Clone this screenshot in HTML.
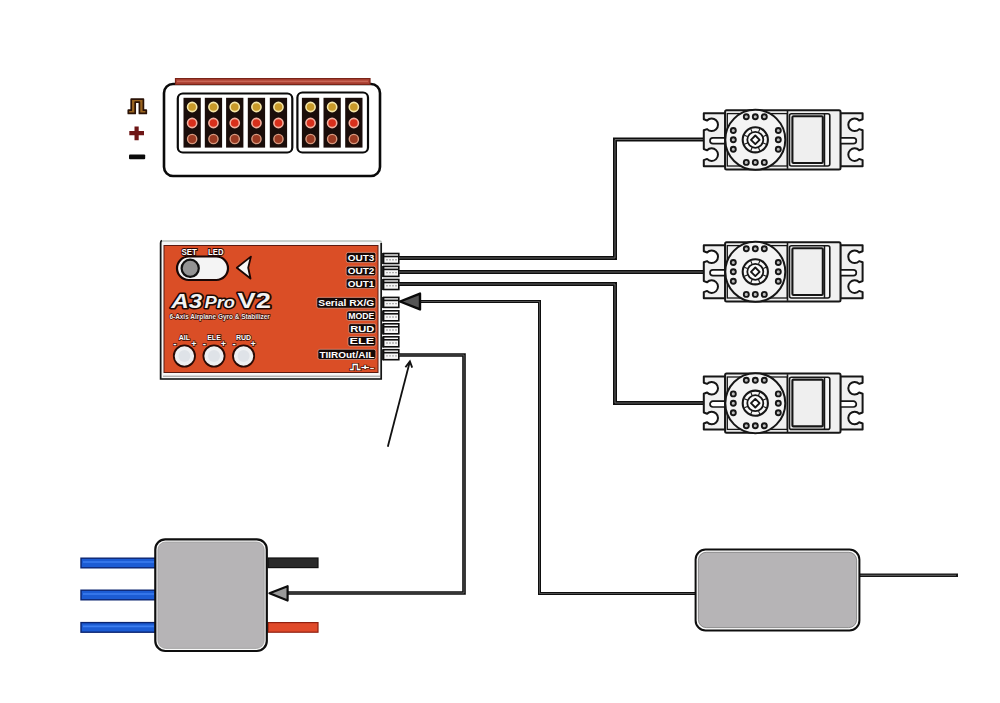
<!DOCTYPE html>
<html><head><meta charset="utf-8"><style>
html,body{margin:0;padding:0;background:#fff;width:1000px;height:703px;overflow:hidden;font-family:"Liberation Sans",sans-serif;}
svg{display:block}
</style></head><body>
<svg width="1000" height="703" viewBox="0 0 1000 703"><g><rect x="164" y="84" width="216" height="92" rx="9" fill="#ffffff" stroke="#0a0a0a" stroke-width="2.6"/>
<rect x="175.5" y="78.6" width="194.5" height="5.8" fill="#b04436" stroke="#7a2418" stroke-width="1.2"/>
<line x1="177" y1="81.3" x2="368" y2="81.3" stroke="#d07060" stroke-width="1.1"/>
<rect x="177.8" y="93.5" width="114.5" height="59" rx="5" fill="#fff" stroke="#0a0a0a" stroke-width="2.2"/>
<rect x="297.4" y="92.5" width="70.6" height="60" rx="5" fill="#fff" stroke="#0a0a0a" stroke-width="2.2"/>
<rect x="183.5" y="97.8" width="17.3" height="49.8" fill="#1a0d0a"/>
<circle cx="192.15" cy="107" r="4.6" fill="#c99a2a" stroke="#f5e6a8" stroke-width="1.6"/>
<circle cx="192.15" cy="123" r="4.6" fill="#d8301c" stroke="#f3b0a0" stroke-width="1.6"/>
<circle cx="192.15" cy="139" r="4.6" fill="#9a3a22" stroke="#d89a80" stroke-width="1.4"/>
<rect x="204.8" y="97.8" width="17.3" height="49.8" fill="#1a0d0a"/>
<circle cx="213.45000000000002" cy="107" r="4.6" fill="#c99a2a" stroke="#f5e6a8" stroke-width="1.6"/>
<circle cx="213.45000000000002" cy="123" r="4.6" fill="#d8301c" stroke="#f3b0a0" stroke-width="1.6"/>
<circle cx="213.45000000000002" cy="139" r="4.6" fill="#9a3a22" stroke="#d89a80" stroke-width="1.4"/>
<rect x="226.1" y="97.8" width="17.3" height="49.8" fill="#1a0d0a"/>
<circle cx="234.75" cy="107" r="4.6" fill="#c99a2a" stroke="#f5e6a8" stroke-width="1.6"/>
<circle cx="234.75" cy="123" r="4.6" fill="#d8301c" stroke="#f3b0a0" stroke-width="1.6"/>
<circle cx="234.75" cy="139" r="4.6" fill="#9a3a22" stroke="#d89a80" stroke-width="1.4"/>
<rect x="247.8" y="97.8" width="17.3" height="49.8" fill="#1a0d0a"/>
<circle cx="256.45" cy="107" r="4.6" fill="#c99a2a" stroke="#f5e6a8" stroke-width="1.6"/>
<circle cx="256.45" cy="123" r="4.6" fill="#d8301c" stroke="#f3b0a0" stroke-width="1.6"/>
<circle cx="256.45" cy="139" r="4.6" fill="#9a3a22" stroke="#d89a80" stroke-width="1.4"/>
<rect x="269.8" y="97.8" width="17.3" height="49.8" fill="#1a0d0a"/>
<circle cx="278.45" cy="107" r="4.6" fill="#c99a2a" stroke="#f5e6a8" stroke-width="1.6"/>
<circle cx="278.45" cy="123" r="4.6" fill="#d8301c" stroke="#f3b0a0" stroke-width="1.6"/>
<circle cx="278.45" cy="139" r="4.6" fill="#9a3a22" stroke="#d89a80" stroke-width="1.4"/>
<rect x="301.9" y="97.8" width="17.3" height="49.8" fill="#1a0d0a"/>
<circle cx="310.54999999999995" cy="107" r="4.6" fill="#c99a2a" stroke="#f5e6a8" stroke-width="1.6"/>
<circle cx="310.54999999999995" cy="123" r="4.6" fill="#d8301c" stroke="#f3b0a0" stroke-width="1.6"/>
<circle cx="310.54999999999995" cy="139" r="4.6" fill="#9a3a22" stroke="#d89a80" stroke-width="1.4"/>
<rect x="323.5" y="97.8" width="17.3" height="49.8" fill="#1a0d0a"/>
<circle cx="332.15" cy="107" r="4.6" fill="#c99a2a" stroke="#f5e6a8" stroke-width="1.6"/>
<circle cx="332.15" cy="123" r="4.6" fill="#d8301c" stroke="#f3b0a0" stroke-width="1.6"/>
<circle cx="332.15" cy="139" r="4.6" fill="#9a3a22" stroke="#d89a80" stroke-width="1.4"/>
<rect x="345.2" y="97.8" width="17.3" height="49.8" fill="#1a0d0a"/>
<circle cx="353.84999999999997" cy="107" r="4.6" fill="#c99a2a" stroke="#f5e6a8" stroke-width="1.6"/>
<circle cx="353.84999999999997" cy="123" r="4.6" fill="#d8301c" stroke="#f3b0a0" stroke-width="1.6"/>
<circle cx="353.84999999999997" cy="139" r="4.6" fill="#9a3a22" stroke="#d89a80" stroke-width="1.4"/>
<path d="M128.3,113.4 V110.2 H131.2 V99.2 H143.4 V110.2 H146.3 V113.4 H139.4 V102.2 H135.2 V113.4 Z" fill="#9a6420" stroke="#2a1206" stroke-width="1.7" stroke-linejoin="round"/>
<path d="M129.3,133.2 h14.7 M136.6,126.4 v13.8" fill="none" stroke="#6e1616" stroke-width="4.2"/>
<rect x="129" y="154.6" width="16.2" height="4.6" rx="1" fill="#0a0a0a"/>
<rect x="160.8" y="241" width="220.5" height="138" rx="1.5" fill="#f6f6f6" stroke="#b8c0bc" stroke-width="1.4"/>
<path d="M162,240.5 Q160.6,240.8 160.6,243 V379 H381.2 V243" fill="none" stroke="#151515" stroke-width="1.7"/>
<rect x="164" y="245.5" width="214" height="127" fill="#da4e26" stroke="#5a1a10" stroke-width="1"/>
<line x1="163" y1="376.2" x2="380" y2="376.2" stroke="#7a7a7a" stroke-width="0.8"/>
<rect x="177" y="256.5" width="51" height="23.5" rx="11.75" fill="#f4f4f4" stroke="#1a0604" stroke-width="2.2"/>
<circle cx="190.2" cy="268.3" r="8.6" fill="#949494" stroke="#111" stroke-width="2.2"/>
<text x="181.5" y="255.3" font-family='"Liberation Sans", sans-serif' font-weight="bold" font-size="9" fill="#fff" stroke="#2a0804" stroke-width="2" paint-order="stroke" textLength="15.5" lengthAdjust="spacingAndGlyphs">SET</text>
<text x="208" y="255.3" font-family='"Liberation Sans", sans-serif' font-weight="bold" font-size="9" fill="#fff" stroke="#2a0804" stroke-width="2" paint-order="stroke" textLength="15.5" lengthAdjust="spacingAndGlyphs">LED</text>
<path d="M236.8,267.7 L250.9,256.6 L248.2,267.7 L250.5,278.5 Z" fill="#f6f6f6" stroke="#1a0604" stroke-width="1.8" stroke-linejoin="round"/>
<text x="171.2" y="307.8" font-family='"Liberation Sans", sans-serif' font-weight="bold" font-style="italic" font-size="19.5" fill="#f2f2f2" stroke="#1a0804" stroke-width="3" stroke-linejoin="round" paint-order="stroke" textLength="31" lengthAdjust="spacingAndGlyphs">A3</text>
<text x="204.5" y="307.8" font-family='"Liberation Sans", sans-serif' font-weight="bold" font-style="italic" font-size="16.5" fill="#f2f2f2" stroke="#1a0804" stroke-width="3" stroke-linejoin="round" paint-order="stroke" textLength="30.5" lengthAdjust="spacingAndGlyphs">Pro</text>
<text x="237.5" y="307.8" font-family='"Liberation Sans", sans-serif' font-weight="bold" font-size="22" fill="#f2f2f2" stroke="#1a0804" stroke-width="3" stroke-linejoin="round" paint-order="stroke" textLength="33.5" lengthAdjust="spacingAndGlyphs">V2</text>
<text x="169.4" y="318.8" font-family='"Liberation Sans", sans-serif' font-weight="bold" font-size="6.4" fill="#f6ece6" stroke="#3a0a04" stroke-width="1.3" paint-order="stroke" textLength="100.5" lengthAdjust="spacingAndGlyphs">6-Axis Airplane Gyro &amp; Stabilizer</text>
<circle cx="184.4" cy="356" r="10.6" fill="#eef0f2" stroke="#2a0a04" stroke-width="1.8"/>
<circle cx="184.4" cy="356" r="6" fill="#dfe3e8"/>
<text x="184.4" y="340" text-anchor="middle" font-family='"Liberation Sans", sans-serif' font-weight="bold" font-size="7" fill="#fff" stroke="#3a0e06" stroke-width="1.4" paint-order="stroke">AIL</text>
<text x="174.9" y="346.5" text-anchor="middle" font-family='"Liberation Sans", sans-serif' font-weight="bold" font-size="10" fill="#fff" stroke="#3a0e06" stroke-width="1.4" paint-order="stroke">-</text>
<text x="193.9" y="346.5" text-anchor="middle" font-family='"Liberation Sans", sans-serif' font-weight="bold" font-size="9" fill="#fff" stroke="#3a0e06" stroke-width="1.4" paint-order="stroke">+</text>
<circle cx="214" cy="356" r="10.6" fill="#eef0f2" stroke="#2a0a04" stroke-width="1.8"/>
<circle cx="214" cy="356" r="6" fill="#dfe3e8"/>
<text x="214" y="340" text-anchor="middle" font-family='"Liberation Sans", sans-serif' font-weight="bold" font-size="7" fill="#fff" stroke="#3a0e06" stroke-width="1.4" paint-order="stroke">ELE</text>
<text x="204.5" y="346.5" text-anchor="middle" font-family='"Liberation Sans", sans-serif' font-weight="bold" font-size="10" fill="#fff" stroke="#3a0e06" stroke-width="1.4" paint-order="stroke">-</text>
<text x="223.5" y="346.5" text-anchor="middle" font-family='"Liberation Sans", sans-serif' font-weight="bold" font-size="9" fill="#fff" stroke="#3a0e06" stroke-width="1.4" paint-order="stroke">+</text>
<circle cx="243.6" cy="356" r="10.6" fill="#eef0f2" stroke="#2a0a04" stroke-width="1.8"/>
<circle cx="243.6" cy="356" r="6" fill="#dfe3e8"/>
<text x="243.6" y="340" text-anchor="middle" font-family='"Liberation Sans", sans-serif' font-weight="bold" font-size="7" fill="#fff" stroke="#3a0e06" stroke-width="1.4" paint-order="stroke">RUD</text>
<text x="234.1" y="346.5" text-anchor="middle" font-family='"Liberation Sans", sans-serif' font-weight="bold" font-size="10" fill="#fff" stroke="#3a0e06" stroke-width="1.4" paint-order="stroke">-</text>
<text x="253.1" y="346.5" text-anchor="middle" font-family='"Liberation Sans", sans-serif' font-weight="bold" font-size="9" fill="#fff" stroke="#3a0e06" stroke-width="1.4" paint-order="stroke">+</text>
<rect x="346.2" y="252.4" width="29.600000000000023" height="10.200000000000017" rx="2" fill="#150806" stroke="#f0b0a0" stroke-width="0.6"/>
<text x="361.0" y="260.8" text-anchor="middle" font-family='"Liberation Sans", sans-serif' font-weight="bold" font-size="8.8" fill="#fff" textLength="26.600000000000023" lengthAdjust="spacingAndGlyphs">OUT3</text>
<rect x="346.2" y="266.2" width="29.600000000000023" height="9.600000000000023" rx="2" fill="#150806" stroke="#f0b0a0" stroke-width="0.6"/>
<text x="361.0" y="274.0" text-anchor="middle" font-family='"Liberation Sans", sans-serif' font-weight="bold" font-size="8.8" fill="#fff" textLength="26.600000000000023" lengthAdjust="spacingAndGlyphs">OUT2</text>
<rect x="346.2" y="278.8" width="29.600000000000023" height="9.599999999999966" rx="2" fill="#150806" stroke="#f0b0a0" stroke-width="0.6"/>
<text x="361.0" y="286.59999999999997" text-anchor="middle" font-family='"Liberation Sans", sans-serif' font-weight="bold" font-size="8.8" fill="#fff" textLength="26.600000000000023" lengthAdjust="spacingAndGlyphs">OUT1</text>
<rect x="316.8" y="297.4" width="59.0" height="10.800000000000011" rx="2" fill="#150806" stroke="#f0b0a0" stroke-width="0.6"/>
<text x="346.3" y="306.4" text-anchor="middle" font-family='"Liberation Sans", sans-serif' font-weight="bold" font-size="8.8" fill="#fff" textLength="56.0" lengthAdjust="spacingAndGlyphs">Serial RX/G</text>
<rect x="346.7" y="310.9" width="29.100000000000023" height="9.600000000000023" rx="2" fill="#150806" stroke="#f0b0a0" stroke-width="0.6"/>
<text x="361.25" y="318.7" text-anchor="middle" font-family='"Liberation Sans", sans-serif' font-weight="bold" font-size="8.8" fill="#fff" textLength="26.100000000000023" lengthAdjust="spacingAndGlyphs">MODE</text>
<rect x="348.7" y="323.7" width="27.100000000000023" height="9.600000000000023" rx="2" fill="#150806" stroke="#f0b0a0" stroke-width="0.6"/>
<text x="362.25" y="331.5" text-anchor="middle" font-family='"Liberation Sans", sans-serif' font-weight="bold" font-size="8.8" fill="#fff" textLength="24.100000000000023" lengthAdjust="spacingAndGlyphs">RUD</text>
<rect x="348" y="336.5" width="27.80000000000001" height="9.600000000000023" rx="2" fill="#150806" stroke="#f0b0a0" stroke-width="0.6"/>
<text x="361.9" y="344.3" text-anchor="middle" font-family='"Liberation Sans", sans-serif' font-weight="bold" font-size="8.8" fill="#fff" textLength="24.80000000000001" lengthAdjust="spacingAndGlyphs">ELE</text>
<rect x="317.9" y="349.3" width="57.900000000000034" height="10.199999999999989" rx="2" fill="#150806" stroke="#f0b0a0" stroke-width="0.6"/>
<text x="346.85" y="357.7" text-anchor="middle" font-family='"Liberation Sans", sans-serif' font-weight="bold" font-size="8.8" fill="#fff" textLength="54.900000000000034" lengthAdjust="spacingAndGlyphs">TIIROut/AIL</text>
<text x="362" y="369.5" text-anchor="middle" font-family='"Liberation Sans", sans-serif' font-weight="bold" font-size="8" fill="#fff" stroke="#3a0e06" stroke-width="1" paint-order="stroke" textLength="25" lengthAdjust="spacingAndGlyphs">&#x238D;+-</text>
<rect x="383.6" y="253.5" width="15.2" height="10" fill="#f6f6f6" stroke="#0e0e0e" stroke-width="1.6"/>
<line x1="383.6" y1="256.5" x2="398.8" y2="256.5" stroke="#111" stroke-width="1.6"/>
<line x1="386" y1="259.7" x2="397" y2="259.7" stroke="#b0b0b0" stroke-width="1.4" stroke-dasharray="2 1"/>
<line x1="383" y1="253.1" x2="383" y2="264.1" stroke="#0e0e0e" stroke-width="1.8"/>
<rect x="383.6" y="266.4" width="15.2" height="10" fill="#f6f6f6" stroke="#0e0e0e" stroke-width="1.6"/>
<line x1="383.6" y1="269.4" x2="398.8" y2="269.4" stroke="#111" stroke-width="1.6"/>
<line x1="386" y1="272.6" x2="397" y2="272.6" stroke="#b0b0b0" stroke-width="1.4" stroke-dasharray="2 1"/>
<line x1="383" y1="266.0" x2="383" y2="277.0" stroke="#0e0e0e" stroke-width="1.8"/>
<rect x="383.6" y="279.5" width="15.2" height="10" fill="#f6f6f6" stroke="#0e0e0e" stroke-width="1.6"/>
<line x1="383.6" y1="282.5" x2="398.8" y2="282.5" stroke="#111" stroke-width="1.6"/>
<line x1="386" y1="285.70000000000005" x2="397" y2="285.70000000000005" stroke="#b0b0b0" stroke-width="1.4" stroke-dasharray="2 1"/>
<line x1="383" y1="279.1" x2="383" y2="290.1" stroke="#0e0e0e" stroke-width="1.8"/>
<rect x="383.6" y="297.4" width="15.2" height="10" fill="#f6f6f6" stroke="#0e0e0e" stroke-width="1.6"/>
<line x1="383.6" y1="300.4" x2="398.8" y2="300.4" stroke="#111" stroke-width="1.6"/>
<line x1="386" y1="303.6" x2="397" y2="303.6" stroke="#b0b0b0" stroke-width="1.4" stroke-dasharray="2 1"/>
<line x1="383" y1="297.0" x2="383" y2="308.0" stroke="#0e0e0e" stroke-width="1.8"/>
<rect x="383.6" y="310.79999999999995" width="15.2" height="10" fill="#f6f6f6" stroke="#0e0e0e" stroke-width="1.6"/>
<line x1="383.6" y1="313.79999999999995" x2="398.8" y2="313.79999999999995" stroke="#111" stroke-width="1.6"/>
<line x1="386" y1="317.0" x2="397" y2="317.0" stroke="#b0b0b0" stroke-width="1.4" stroke-dasharray="2 1"/>
<line x1="383" y1="310.4" x2="383" y2="321.4" stroke="#0e0e0e" stroke-width="1.8"/>
<rect x="383.6" y="323.79999999999995" width="15.2" height="10" fill="#f6f6f6" stroke="#0e0e0e" stroke-width="1.6"/>
<line x1="383.6" y1="326.79999999999995" x2="398.8" y2="326.79999999999995" stroke="#111" stroke-width="1.6"/>
<line x1="386" y1="330.0" x2="397" y2="330.0" stroke="#b0b0b0" stroke-width="1.4" stroke-dasharray="2 1"/>
<line x1="383" y1="323.4" x2="383" y2="334.4" stroke="#0e0e0e" stroke-width="1.8"/>
<rect x="383.6" y="336.79999999999995" width="15.2" height="10" fill="#f6f6f6" stroke="#0e0e0e" stroke-width="1.6"/>
<line x1="383.6" y1="339.79999999999995" x2="398.8" y2="339.79999999999995" stroke="#111" stroke-width="1.6"/>
<line x1="386" y1="343.0" x2="397" y2="343.0" stroke="#b0b0b0" stroke-width="1.4" stroke-dasharray="2 1"/>
<line x1="383" y1="336.4" x2="383" y2="347.4" stroke="#0e0e0e" stroke-width="1.8"/>
<rect x="383.6" y="349.7" width="15.2" height="10" fill="#f6f6f6" stroke="#0e0e0e" stroke-width="1.6"/>
<line x1="383.6" y1="352.7" x2="398.8" y2="352.7" stroke="#111" stroke-width="1.6"/>
<line x1="386" y1="355.90000000000003" x2="397" y2="355.90000000000003" stroke="#b0b0b0" stroke-width="1.4" stroke-dasharray="2 1"/>
<line x1="383" y1="349.3" x2="383" y2="360.3" stroke="#0e0e0e" stroke-width="1.8"/>
<path d="M399,258 H615 V139.5 H703" fill="none" stroke="#0e0e0e" stroke-width="4.0" stroke-linejoin="miter"/>
<path d="M399,258 H615 V139.5 H703" fill="none" stroke="#7a7a7a" stroke-width="0.80" stroke-linejoin="miter"/>
<path d="M399,272 H705" fill="none" stroke="#0e0e0e" stroke-width="4.0" stroke-linejoin="miter"/>
<path d="M399,272 H705" fill="none" stroke="#7a7a7a" stroke-width="0.80" stroke-linejoin="miter"/>
<path d="M399,284 H615 V403 H705" fill="none" stroke="#0e0e0e" stroke-width="4.0" stroke-linejoin="miter"/>
<path d="M399,284 H615 V403 H705" fill="none" stroke="#7a7a7a" stroke-width="0.80" stroke-linejoin="miter"/>
<path d="M420,301.5 H539.5 V593.5 H696" fill="none" stroke="#0e0e0e" stroke-width="3.0" stroke-linejoin="miter"/>
<path d="M420,301.5 H539.5 V593.5 H696" fill="none" stroke="#7a7a7a" stroke-width="0.60" stroke-linejoin="miter"/>
<path d="M400,301.5 L420,293.6 L420,309.4 Z" fill="#555" stroke="#0a0a0a" stroke-width="2.4" stroke-linejoin="round"/>
<path d="M399,355 H464 V593 H287" fill="none" stroke="#0e0e0e" stroke-width="3.6" stroke-linejoin="miter"/>
<path d="M399,355 H464 V593 H287" fill="none" stroke="#7a7a7a" stroke-width="0.72" stroke-linejoin="miter"/>
<path d="M269.5,593.3 L287.6,586.2 L287.6,600.6 Z" fill="#9a9a9a" stroke="#0e0e0e" stroke-width="2.2" stroke-linejoin="round"/>
<line x1="387.8" y1="446.7" x2="409.6" y2="362.5" stroke="#111" stroke-width="1.8"/>
<path d="M405.4,367.3 L409.9,361.4 L412.2,367.6" fill="none" stroke="#111" stroke-width="1.8" stroke-linejoin="miter"/>
<path d="M725.3,113.20000000000002 H703.8 V119.29535134999384 L707.0999999999999,120.49535134999384 A6.3,6.3 0 1 1 707.0999999999999,129.1046486500062 L703.8,130.3046486500062 V149.09535134999385 L707.0999999999999,150.29535134999384 A6.3,6.3 0 1 1 707.0999999999999,158.9046486500062 L703.8,160.1046486500062 V166.20000000000002 H725.3 Z" fill="#f0f0f0" stroke="#161616" stroke-width="2" stroke-linejoin="round"/><path d="M726.3,137.8 H712.9 A2.9,2.9 0 0 0 712.9,143.60000000000002 H726.3" fill="#fff" stroke="#161616" stroke-width="1.7"/><path d="M840.3,113.20000000000002 H862.5999999999999 V119.29535134999384 L859.1999999999999,120.49535134999384 A6.3,6.3 0 1 0 859.1999999999999,129.1046486500062 L862.5999999999999,130.3046486500062 V149.09535134999385 L859.1999999999999,150.29535134999384 A6.3,6.3 0 1 0 859.1999999999999,158.9046486500062 L862.5999999999999,160.1046486500062 V166.20000000000002 H840.3 Z" fill="#f0f0f0" stroke="#161616" stroke-width="2" stroke-linejoin="round"/><path d="M839.3,137.8 H853.3999999999999 A2.9,2.9 0 0 1 853.3999999999999,143.60000000000002 H839.3" fill="#fff" stroke="#161616" stroke-width="1.7"/><rect x="725.0999999999999" y="110.20000000000002" width="115.4" height="59.2" rx="1.5" fill="#f0f0f0" stroke="#161616" stroke-width="2"/><rect x="727.3" y="113.60000000000001" width="60" height="52.4" fill="none" stroke="#161616" stroke-width="1.3"/><line x1="787.5" y1="110.80000000000001" x2="787.5" y2="168.8" stroke="#161616" stroke-width="1.6"/><rect x="789.5" y="113.80000000000001" width="40.3" height="52.2" rx="2" fill="#f6f6f6" stroke="#161616" stroke-width="1.6"/><rect x="792.4" y="116.20000000000002" width="30.4" height="46.8" rx="1" fill="#efefef" stroke="#161616" stroke-width="2.1"/><line x1="824.5" y1="113.80000000000001" x2="824.5" y2="166.0" stroke="#161616" stroke-width="1.5"/><circle cx="755.3" cy="139.8" r="30" fill="#f4f4f4" stroke="#161616" stroke-width="2"/><circle cx="746.3" cy="116.80000000000001" r="2.5" fill="#bdbdbd" stroke="#161616" stroke-width="1.9"/><circle cx="755.3" cy="116.80000000000001" r="2.5" fill="#bdbdbd" stroke="#161616" stroke-width="1.9"/><circle cx="764.3" cy="116.80000000000001" r="2.5" fill="#bdbdbd" stroke="#161616" stroke-width="1.9"/><circle cx="746.3" cy="162.4" r="2.5" fill="#bdbdbd" stroke="#161616" stroke-width="1.9"/><circle cx="755.3" cy="162.4" r="2.5" fill="#bdbdbd" stroke="#161616" stroke-width="1.9"/><circle cx="764.3" cy="162.4" r="2.5" fill="#bdbdbd" stroke="#161616" stroke-width="1.9"/><circle cx="733.3" cy="130.5" r="2.5" fill="#bdbdbd" stroke="#161616" stroke-width="1.9"/><circle cx="733.3" cy="139.8" r="2.5" fill="#bdbdbd" stroke="#161616" stroke-width="1.9"/><circle cx="733.3" cy="149.3" r="2.5" fill="#bdbdbd" stroke="#161616" stroke-width="1.9"/><circle cx="778.3" cy="130.5" r="2.5" fill="#bdbdbd" stroke="#161616" stroke-width="1.9"/><circle cx="778.3" cy="139.8" r="2.5" fill="#bdbdbd" stroke="#161616" stroke-width="1.9"/><circle cx="778.3" cy="149.3" r="2.5" fill="#bdbdbd" stroke="#161616" stroke-width="1.9"/><circle cx="755.3" cy="139.8" r="12.6" fill="#f8f8f8" stroke="#161616" stroke-width="2.1"/><line x1="763.25" y1="143.09" x2="766.20" y2="144.32" stroke="#161616" stroke-width="1.1"/><line x1="758.59" y1="147.75" x2="759.82" y2="150.70" stroke="#161616" stroke-width="1.1"/><line x1="752.01" y1="147.75" x2="750.78" y2="150.70" stroke="#161616" stroke-width="1.1"/><line x1="747.35" y1="143.09" x2="744.40" y2="144.32" stroke="#161616" stroke-width="1.1"/><line x1="747.35" y1="136.51" x2="744.40" y2="135.28" stroke="#161616" stroke-width="1.1"/><line x1="752.01" y1="131.85" x2="750.78" y2="128.90" stroke="#161616" stroke-width="1.1"/><line x1="758.59" y1="131.85" x2="759.82" y2="128.90" stroke="#161616" stroke-width="1.1"/><line x1="763.25" y1="136.51" x2="766.20" y2="135.28" stroke="#161616" stroke-width="1.1"/><circle cx="755.3" cy="139.8" r="8" fill="#fafafa" stroke="#161616" stroke-width="1.8"/><path d="M755.3,135.5 L759.5999999999999,139.8 L755.3,144.10000000000002 L751.0,139.8 Z" fill="#fff" stroke="#161616" stroke-width="1.9" stroke-linejoin="round"/>
<path d="M725.3,245.20000000000002 H703.8 V251.29535134999384 L707.0999999999999,252.49535134999383 A6.3,6.3 0 1 1 707.0999999999999,261.1046486500062 L703.8,262.3046486500062 V281.09535134999385 L707.0999999999999,282.29535134999384 A6.3,6.3 0 1 1 707.0999999999999,290.9046486500062 L703.8,292.1046486500062 V298.2 H725.3 Z" fill="#f0f0f0" stroke="#161616" stroke-width="2" stroke-linejoin="round"/><path d="M726.3,269.8 H712.9 A2.9,2.9 0 0 0 712.9,275.6 H726.3" fill="#fff" stroke="#161616" stroke-width="1.7"/><path d="M840.3,245.20000000000002 H862.5999999999999 V251.29535134999384 L859.1999999999999,252.49535134999383 A6.3,6.3 0 1 0 859.1999999999999,261.1046486500062 L862.5999999999999,262.3046486500062 V281.09535134999385 L859.1999999999999,282.29535134999384 A6.3,6.3 0 1 0 859.1999999999999,290.9046486500062 L862.5999999999999,292.1046486500062 V298.2 H840.3 Z" fill="#f0f0f0" stroke="#161616" stroke-width="2" stroke-linejoin="round"/><path d="M839.3,269.8 H853.3999999999999 A2.9,2.9 0 0 1 853.3999999999999,275.6 H839.3" fill="#fff" stroke="#161616" stroke-width="1.7"/><rect x="725.0999999999999" y="242.20000000000002" width="115.4" height="59.2" rx="1.5" fill="#f0f0f0" stroke="#161616" stroke-width="2"/><rect x="727.3" y="245.60000000000002" width="60" height="52.4" fill="none" stroke="#161616" stroke-width="1.3"/><line x1="787.5" y1="242.8" x2="787.5" y2="300.8" stroke="#161616" stroke-width="1.6"/><rect x="789.5" y="245.8" width="40.3" height="52.2" rx="2" fill="#f6f6f6" stroke="#161616" stroke-width="1.6"/><rect x="792.4" y="248.20000000000002" width="30.4" height="46.8" rx="1" fill="#efefef" stroke="#161616" stroke-width="2.1"/><line x1="824.5" y1="245.8" x2="824.5" y2="298.0" stroke="#161616" stroke-width="1.5"/><circle cx="755.3" cy="271.8" r="30" fill="#f4f4f4" stroke="#161616" stroke-width="2"/><circle cx="746.3" cy="248.8" r="2.5" fill="#bdbdbd" stroke="#161616" stroke-width="1.9"/><circle cx="755.3" cy="248.8" r="2.5" fill="#bdbdbd" stroke="#161616" stroke-width="1.9"/><circle cx="764.3" cy="248.8" r="2.5" fill="#bdbdbd" stroke="#161616" stroke-width="1.9"/><circle cx="746.3" cy="294.40000000000003" r="2.5" fill="#bdbdbd" stroke="#161616" stroke-width="1.9"/><circle cx="755.3" cy="294.40000000000003" r="2.5" fill="#bdbdbd" stroke="#161616" stroke-width="1.9"/><circle cx="764.3" cy="294.40000000000003" r="2.5" fill="#bdbdbd" stroke="#161616" stroke-width="1.9"/><circle cx="733.3" cy="262.5" r="2.5" fill="#bdbdbd" stroke="#161616" stroke-width="1.9"/><circle cx="733.3" cy="271.8" r="2.5" fill="#bdbdbd" stroke="#161616" stroke-width="1.9"/><circle cx="733.3" cy="281.3" r="2.5" fill="#bdbdbd" stroke="#161616" stroke-width="1.9"/><circle cx="778.3" cy="262.5" r="2.5" fill="#bdbdbd" stroke="#161616" stroke-width="1.9"/><circle cx="778.3" cy="271.8" r="2.5" fill="#bdbdbd" stroke="#161616" stroke-width="1.9"/><circle cx="778.3" cy="281.3" r="2.5" fill="#bdbdbd" stroke="#161616" stroke-width="1.9"/><circle cx="755.3" cy="271.8" r="12.6" fill="#f8f8f8" stroke="#161616" stroke-width="2.1"/><line x1="763.25" y1="275.09" x2="766.20" y2="276.32" stroke="#161616" stroke-width="1.1"/><line x1="758.59" y1="279.75" x2="759.82" y2="282.70" stroke="#161616" stroke-width="1.1"/><line x1="752.01" y1="279.75" x2="750.78" y2="282.70" stroke="#161616" stroke-width="1.1"/><line x1="747.35" y1="275.09" x2="744.40" y2="276.32" stroke="#161616" stroke-width="1.1"/><line x1="747.35" y1="268.51" x2="744.40" y2="267.28" stroke="#161616" stroke-width="1.1"/><line x1="752.01" y1="263.85" x2="750.78" y2="260.90" stroke="#161616" stroke-width="1.1"/><line x1="758.59" y1="263.85" x2="759.82" y2="260.90" stroke="#161616" stroke-width="1.1"/><line x1="763.25" y1="268.51" x2="766.20" y2="267.28" stroke="#161616" stroke-width="1.1"/><circle cx="755.3" cy="271.8" r="8" fill="#fafafa" stroke="#161616" stroke-width="1.8"/><path d="M755.3,267.5 L759.5999999999999,271.8 L755.3,276.1 L751.0,271.8 Z" fill="#fff" stroke="#161616" stroke-width="1.9" stroke-linejoin="round"/>
<path d="M725.3,376.59999999999997 H703.8 V382.6953513499938 L707.0999999999999,383.8953513499938 A6.3,6.3 0 1 1 707.0999999999999,392.5046486500062 L703.8,393.70464865000616 V412.4953513499938 L707.0999999999999,413.6953513499938 A6.3,6.3 0 1 1 707.0999999999999,422.3046486500062 L703.8,423.5046486500062 V429.59999999999997 H725.3 Z" fill="#f0f0f0" stroke="#161616" stroke-width="2" stroke-linejoin="round"/><path d="M726.3,401.2 H712.9 A2.9,2.9 0 0 0 712.9,407.0 H726.3" fill="#fff" stroke="#161616" stroke-width="1.7"/><path d="M840.3,376.59999999999997 H862.5999999999999 V382.6953513499938 L859.1999999999999,383.8953513499938 A6.3,6.3 0 1 0 859.1999999999999,392.5046486500062 L862.5999999999999,393.70464865000616 V412.4953513499938 L859.1999999999999,413.6953513499938 A6.3,6.3 0 1 0 859.1999999999999,422.3046486500062 L862.5999999999999,423.5046486500062 V429.59999999999997 H840.3 Z" fill="#f0f0f0" stroke="#161616" stroke-width="2" stroke-linejoin="round"/><path d="M839.3,401.2 H853.3999999999999 A2.9,2.9 0 0 1 853.3999999999999,407.0 H839.3" fill="#fff" stroke="#161616" stroke-width="1.7"/><rect x="725.0999999999999" y="373.59999999999997" width="115.4" height="59.2" rx="1.5" fill="#f0f0f0" stroke="#161616" stroke-width="2"/><rect x="727.3" y="377.0" width="60" height="52.4" fill="none" stroke="#161616" stroke-width="1.3"/><line x1="787.5" y1="374.2" x2="787.5" y2="432.2" stroke="#161616" stroke-width="1.6"/><rect x="789.5" y="377.2" width="40.3" height="52.2" rx="2" fill="#f6f6f6" stroke="#161616" stroke-width="1.6"/><rect x="792.4" y="379.59999999999997" width="30.4" height="46.8" rx="1" fill="#efefef" stroke="#161616" stroke-width="2.1"/><line x1="824.5" y1="377.2" x2="824.5" y2="429.4" stroke="#161616" stroke-width="1.5"/><circle cx="755.3" cy="403.2" r="30" fill="#f4f4f4" stroke="#161616" stroke-width="2"/><circle cx="746.3" cy="380.2" r="2.5" fill="#bdbdbd" stroke="#161616" stroke-width="1.9"/><circle cx="755.3" cy="380.2" r="2.5" fill="#bdbdbd" stroke="#161616" stroke-width="1.9"/><circle cx="764.3" cy="380.2" r="2.5" fill="#bdbdbd" stroke="#161616" stroke-width="1.9"/><circle cx="746.3" cy="425.8" r="2.5" fill="#bdbdbd" stroke="#161616" stroke-width="1.9"/><circle cx="755.3" cy="425.8" r="2.5" fill="#bdbdbd" stroke="#161616" stroke-width="1.9"/><circle cx="764.3" cy="425.8" r="2.5" fill="#bdbdbd" stroke="#161616" stroke-width="1.9"/><circle cx="733.3" cy="393.9" r="2.5" fill="#bdbdbd" stroke="#161616" stroke-width="1.9"/><circle cx="733.3" cy="403.2" r="2.5" fill="#bdbdbd" stroke="#161616" stroke-width="1.9"/><circle cx="733.3" cy="412.7" r="2.5" fill="#bdbdbd" stroke="#161616" stroke-width="1.9"/><circle cx="778.3" cy="393.9" r="2.5" fill="#bdbdbd" stroke="#161616" stroke-width="1.9"/><circle cx="778.3" cy="403.2" r="2.5" fill="#bdbdbd" stroke="#161616" stroke-width="1.9"/><circle cx="778.3" cy="412.7" r="2.5" fill="#bdbdbd" stroke="#161616" stroke-width="1.9"/><circle cx="755.3" cy="403.2" r="12.6" fill="#f8f8f8" stroke="#161616" stroke-width="2.1"/><line x1="763.25" y1="406.49" x2="766.20" y2="407.72" stroke="#161616" stroke-width="1.1"/><line x1="758.59" y1="411.15" x2="759.82" y2="414.10" stroke="#161616" stroke-width="1.1"/><line x1="752.01" y1="411.15" x2="750.78" y2="414.10" stroke="#161616" stroke-width="1.1"/><line x1="747.35" y1="406.49" x2="744.40" y2="407.72" stroke="#161616" stroke-width="1.1"/><line x1="747.35" y1="399.91" x2="744.40" y2="398.68" stroke="#161616" stroke-width="1.1"/><line x1="752.01" y1="395.25" x2="750.78" y2="392.30" stroke="#161616" stroke-width="1.1"/><line x1="758.59" y1="395.25" x2="759.82" y2="392.30" stroke="#161616" stroke-width="1.1"/><line x1="763.25" y1="399.91" x2="766.20" y2="398.68" stroke="#161616" stroke-width="1.1"/><circle cx="755.3" cy="403.2" r="8" fill="#fafafa" stroke="#161616" stroke-width="1.8"/><path d="M755.3,398.9 L759.5999999999999,403.2 L755.3,407.5 L751.0,403.2 Z" fill="#fff" stroke="#161616" stroke-width="1.9" stroke-linejoin="round"/>
<rect x="81" y="558.2" width="75" height="9.6" fill="#1c5cd4" stroke="#0a2470" stroke-width="1.4"/>
<line x1="83" y1="562" x2="154" y2="562" stroke="#3d7ef0" stroke-width="1.6"/>
<rect x="81" y="590.2" width="75" height="9.6" fill="#1c5cd4" stroke="#0a2470" stroke-width="1.4"/>
<line x1="83" y1="594" x2="154" y2="594" stroke="#3d7ef0" stroke-width="1.6"/>
<rect x="81" y="622.6" width="75" height="9.6" fill="#1c5cd4" stroke="#0a2470" stroke-width="1.4"/>
<line x1="83" y1="626.4" x2="154" y2="626.4" stroke="#3d7ef0" stroke-width="1.6"/>
<rect x="268" y="558" width="50" height="9.6" fill="#2a2a2a" stroke="#111" stroke-width="1.2"/>
<rect x="268" y="622.6" width="50" height="9.6" fill="#e04a2a" stroke="#902010" stroke-width="1.2"/>
<rect x="155.3" y="539.4" width="111.5" height="111.6" rx="10" fill="#fafafa" stroke="#0e0e0e" stroke-width="2.2"/>
<rect x="157.9" y="542" width="106.3" height="106.4" rx="7.8" fill="#b6b4b6" stroke="#9a9a9a" stroke-width="0.7"/>
<line x1="859" y1="575.3" x2="958" y2="575.3" stroke="#161616" stroke-width="3.4"/>
<line x1="860" y1="575.3" x2="956" y2="575.3" stroke="#777" stroke-width="0.8"/>
<rect x="695.6" y="549.5" width="163.8" height="80.9" rx="10" fill="#fafafa" stroke="#0e0e0e" stroke-width="2"/>
<rect x="698.4" y="552.3" width="158.2" height="75.3" rx="7.8" fill="#b6b4b6" stroke="#7a7a7a" stroke-width="0.8"/></g></svg>
</body></html>
